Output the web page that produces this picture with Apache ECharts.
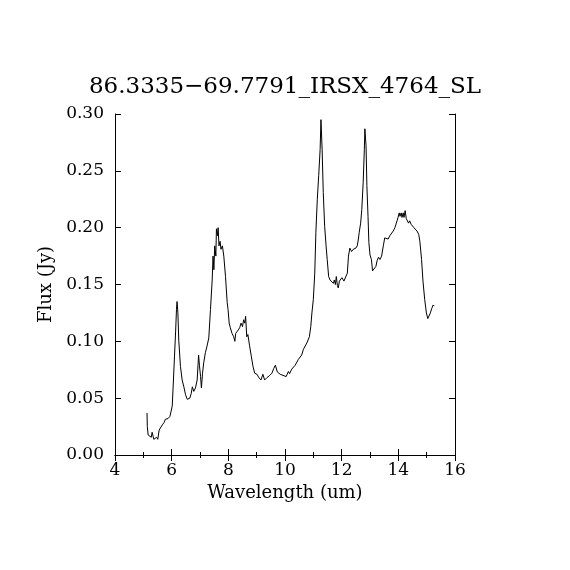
<!DOCTYPE html>
<html>
<head>
<meta charset="utf-8">
<script src="https://cdn.jsdelivr.net/npm/echarts@6/dist/echarts.min.js"></script>
<style>
    html, body { margin: 0; padding: 0; background: #fff; }
    #chart { width: 570px; height: 570px; }
</style>
</head>
<body>
<div id="chart"></div>
<script>
// 光谱数据
var wavelength = [
    5.13, 5.14, 5.17, 5.23, 5.28, 5.31, 5.37, 5.47, 5.51, 5.56, 5.61, 5.67, 5.73, 5.78, 5.82, 5.87, 5.94, 5.98,
    6.02, 6.05, 6.10, 6.14, 6.17, 6.19, 6.22, 6.25, 6.31, 6.37, 6.43, 6.49, 6.55, 6.64, 6.69, 6.73, 6.78, 6.84,
    6.90, 6.95, 6.98, 7.02, 7.05, 7.09, 7.13, 7.19, 7.25, 7.31, 7.37, 7.43, 7.46, 7.49, 7.52, 7.56, 7.58, 7.62,
    7.64, 7.67, 7.71, 7.74, 7.79, 7.84, 7.90, 7.96, 7.99, 8.03, 8.07, 8.13, 8.19, 8.23, 8.26, 8.31, 8.35, 8.40,
    8.45, 8.50, 8.54, 8.58, 8.61, 8.65, 8.69, 8.75, 8.81, 8.87, 8.93, 9.01, 9.08, 9.15, 9.22, 9.28, 9.36, 9.46,
    9.54, 9.60, 9.66, 9.73, 9.83, 9.89, 10.04, 10.12, 10.16, 10.24, 10.36, 10.47, 10.59, 10.65, 10.77, 10.86,
    10.91, 10.95, 11.00, 11.05, 11.09, 11.14, 11.19, 11.24, 11.27, 11.31, 11.35, 11.40, 11.45, 11.49, 11.54,
    11.59, 11.65, 11.71, 11.74, 11.78, 11.81, 11.85, 11.88, 11.92, 11.96, 12.01, 12.08, 12.15, 12.20, 12.24,
    12.29, 12.35, 12.41, 12.50, 12.55, 12.59, 12.62, 12.67, 12.71, 12.76, 12.80, 12.82, 12.86, 12.89, 12.93,
    12.96, 13.00, 13.05, 13.09, 13.15, 13.21, 13.25, 13.30, 13.35, 13.41, 13.47, 13.52, 13.58, 13.64, 13.70,
    13.76, 13.82, 13.88, 13.93, 13.99, 14.03, 14.06, 14.10, 14.13, 14.17, 14.20, 14.24, 14.28, 14.31, 14.36,
    14.40, 14.45, 14.50, 14.55, 14.60, 14.66, 14.72, 14.76, 14.82, 14.87, 14.93, 14.99, 15.04, 15.09, 15.13,
    15.18, 15.23, 15.27
];
var flux = [
    0.037, 0.025, 0.0176, 0.019, 0.0156, 0.020, 0.0138, 0.0156, 0.0138, 0.022, 0.0235, 0.0265, 0.0285, 0.0315, 0.030, 0.032, 0.034, 0.035,
    0.043, 0.059, 0.087, 0.109, 0.128, 0.135, 0.125, 0.101, 0.078, 0.066, 0.060, 0.053, 0.049, 0.050, 0.054, 0.060, 0.056, 0.059,
    0.066, 0.088, 0.079, 0.069, 0.059, 0.072, 0.081, 0.090, 0.096, 0.103, 0.128, 0.154, 0.175, 0.163, 0.184, 0.175, 0.199, 0.193,
    0.200, 0.184, 0.188, 0.181, 0.184, 0.175, 0.157, 0.134, 0.128, 0.116, 0.112, 0.107, 0.104, 0.100, 0.107, 0.106, 0.110, 0.112,
    0.116, 0.113, 0.119, 0.116, 0.122, 0.104, 0.106, 0.096, 0.087, 0.078, 0.072, 0.071, 0.068, 0.066, 0.071, 0.066, 0.068, 0.070,
    0.072, 0.076, 0.079, 0.073, 0.071, 0.0706, 0.069, 0.0735, 0.0715, 0.0756, 0.079, 0.084, 0.088, 0.093, 0.0985, 0.104,
    0.113, 0.125, 0.137, 0.160, 0.196, 0.225, 0.246, 0.269, 0.295, 0.269, 0.231, 0.201, 0.184, 0.172, 0.157,
    0.154, 0.153, 0.151, 0.154, 0.150, 0.157, 0.149, 0.147, 0.153, 0.154, 0.156, 0.153, 0.152, 0.160, 0.175,
    0.182, 0.179, 0.181, 0.182, 0.184, 0.190, 0.196, 0.204, 0.216, 0.240, 0.269, 0.287, 0.272, 0.237, 0.210,
    0.187, 0.176, 0.172, 0.162, 0.163, 0.166, 0.171, 0.174, 0.172, 0.175, 0.184, 0.191, 0.190, 0.190, 0.193,
    0.194, 0.197, 0.200, 0.204, 0.209, 0.213, 0.210, 0.213, 0.209, 0.213, 0.209, 0.215, 0.208, 0.209, 0.204,
    0.206, 0.203, 0.204, 0.200, 0.199, 0.197, 0.194, 0.188, 0.172, 0.153, 0.137, 0.125, 0.120, 0.120, 0.125,
    0.129, 0.132, 0.131
];
var titleText = '86.3335\u221269.7791_IRSX_4764_SL';
var xTicks = [4, 16, 2];       // min, max, interval
var yTicks = [0, 0.30, 0.05];

var font = 'DejaVu Serif';

var points = [];
wavelength.forEach(function(w, i) {
    points.push([w, flux[i]]);
});

var myChart = echarts.init(document.getElementById('chart'));

var lineStyle = { color: '#000', width: 1 };
var xBase = {
    type: 'value',
    min: xTicks[0],
    max: xTicks[1],
    interval: xTicks[2],
    axisLine: { lineStyle: lineStyle },
    axisTick: { inside: true, length: 6, lineStyle: lineStyle },
    minorTick: { show: true, splitNumber: 2, length: 3, lineStyle: lineStyle },
    splitLine: { show: false }
};
var yBase = {
    type: 'value',
    min: yTicks[0],
    max: yTicks[1],
    interval: yTicks[2],
    axisLine: { lineStyle: lineStyle },
    axisTick: { inside: true, length: 6, lineStyle: lineStyle },
    splitLine: { show: false }
};

var option = {
    backgroundColor: '#fff',
    animation: false,
    title: {
        text: titleText,
        left: 'center',
        top: 71,
        textStyle: { fontFamily: font, fontSize: 23, fontWeight: 'normal', color: '#000' }
    },
    grid: { left: 115, right: 115, top: 114, bottom: 115 },
    xAxis: [
        Object.assign({}, xBase, {
            position: 'bottom',
            name: 'Wavelength (um)',
            nameLocation: 'middle',
            nameGap: 28,
            nameTextStyle: { fontFamily: font, fontSize: 18, color: '#000' },
            axisLabel: { margin: 7, fontFamily: font, fontSize: 17, color: '#000' }
        }),
        Object.assign({}, xBase, {
            position: 'top',
            axisLabel: { show: false }
        })
    ],
    yAxis: [
        Object.assign({}, yBase, {
            position: 'left',
            name: 'Flux (Jy)',
            nameLocation: 'middle',
            nameGap: 52,
            nameTextStyle: { fontFamily: font, fontSize: 18, color: '#000' },
            axisLabel: {
                margin: 11, fontFamily: font, fontSize: 17, color: '#000',
                formatter: function(v) { return v.toFixed(2); }
            }
        }),
        Object.assign({}, yBase, {
            position: 'right',
            axisLabel: { show: false }
        })
    ],
    series: [{
        type: 'line',
        data: points,
        showSymbol: false,
        lineStyle: lineStyle,
        silent: true
    }]
};
myChart.setOption(option);
</script>
</body>
</html>
